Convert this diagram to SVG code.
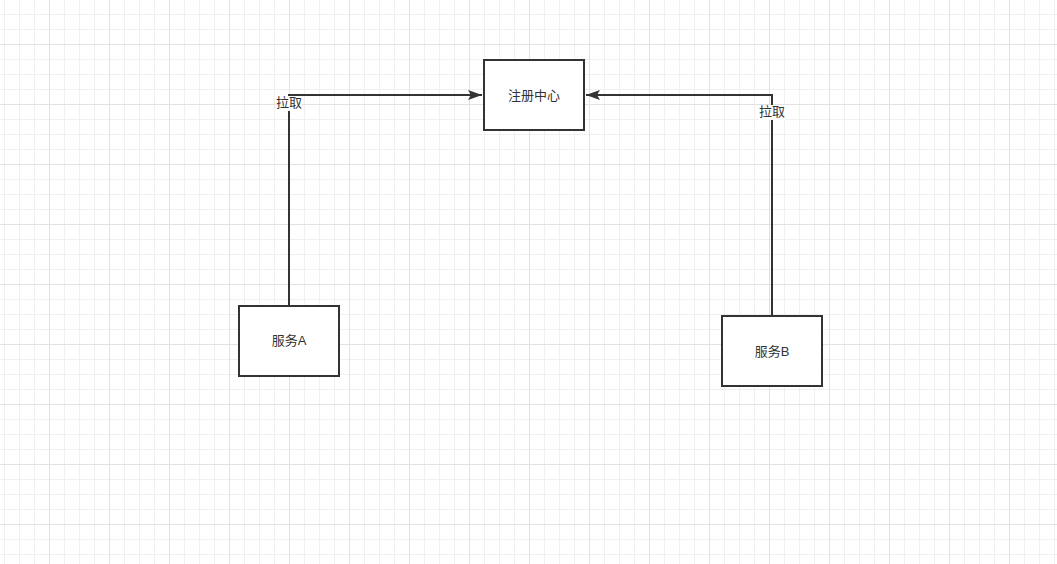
<svg xmlns="http://www.w3.org/2000/svg" width="1057" height="564" viewBox="0 0 1057 564">
<defs>
<pattern id="minor" x="4" y="14" width="15" height="15" patternUnits="userSpaceOnUse">
<path d="M0.5 0V15M0 0.5H15" fill="none" stroke="#f0f0f0" stroke-width="1"/>
</pattern>
<pattern id="major" x="49" y="44" width="60" height="60" patternUnits="userSpaceOnUse">
<path d="M0.5 0V60M0 0.5H60" fill="none" stroke="#e2e2e2" stroke-width="1"/>
</pattern>
<marker id="arrow" markerWidth="14" markerHeight="10" refX="14" refY="5" orient="auto" markerUnits="userSpaceOnUse">
<path d="M0 0L14 5L0 10L3 5Z" fill="#333"/>
</marker>
</defs>
<style>
.box{fill:#fff;stroke:#333;stroke-width:2}
.lbl{font-family:"Liberation Sans","Noto Sans CJK SC",sans-serif;font-size:13px;fill:#333;text-anchor:middle}
.edge{fill:none;stroke:#333;stroke-width:2}
.bg{fill:#fff}
</style>
<rect width="1057" height="564" fill="#fff"/>
<rect width="1057" height="564" fill="url(#minor)"/>
<rect width="1057" height="564" fill="url(#major)"/>
<g id="connectors">
<g id="edgeA">
<path class="edge" d="M289 306V95H482" marker-end="url(#arrow)"/>
<rect class="bg" x="276" y="96" width="26" height="15"/>
<text class="lbl" x="289" y="107">拉取</text>
</g>
<g id="edgeB">
<path class="edge" d="M772 316V95H586" marker-end="url(#arrow)"/>
<rect class="bg" x="759" y="105" width="26" height="15"/>
<text class="lbl" x="772" y="116">拉取</text>
</g>
</g>
<g id="registry">
<rect class="box" x="484" y="60" width="100" height="70"/>
<text class="lbl" x="534" y="100">注册中心</text>
</g>
<g id="serviceA">
<rect class="box" x="239" y="306" width="100" height="70"/>
<text class="lbl" x="289" y="345">服务A</text>
</g>
<g id="serviceB">
<rect class="box" x="722" y="316" width="100" height="70"/>
<text class="lbl" x="772" y="356">服务B</text>
</g>
</svg>
